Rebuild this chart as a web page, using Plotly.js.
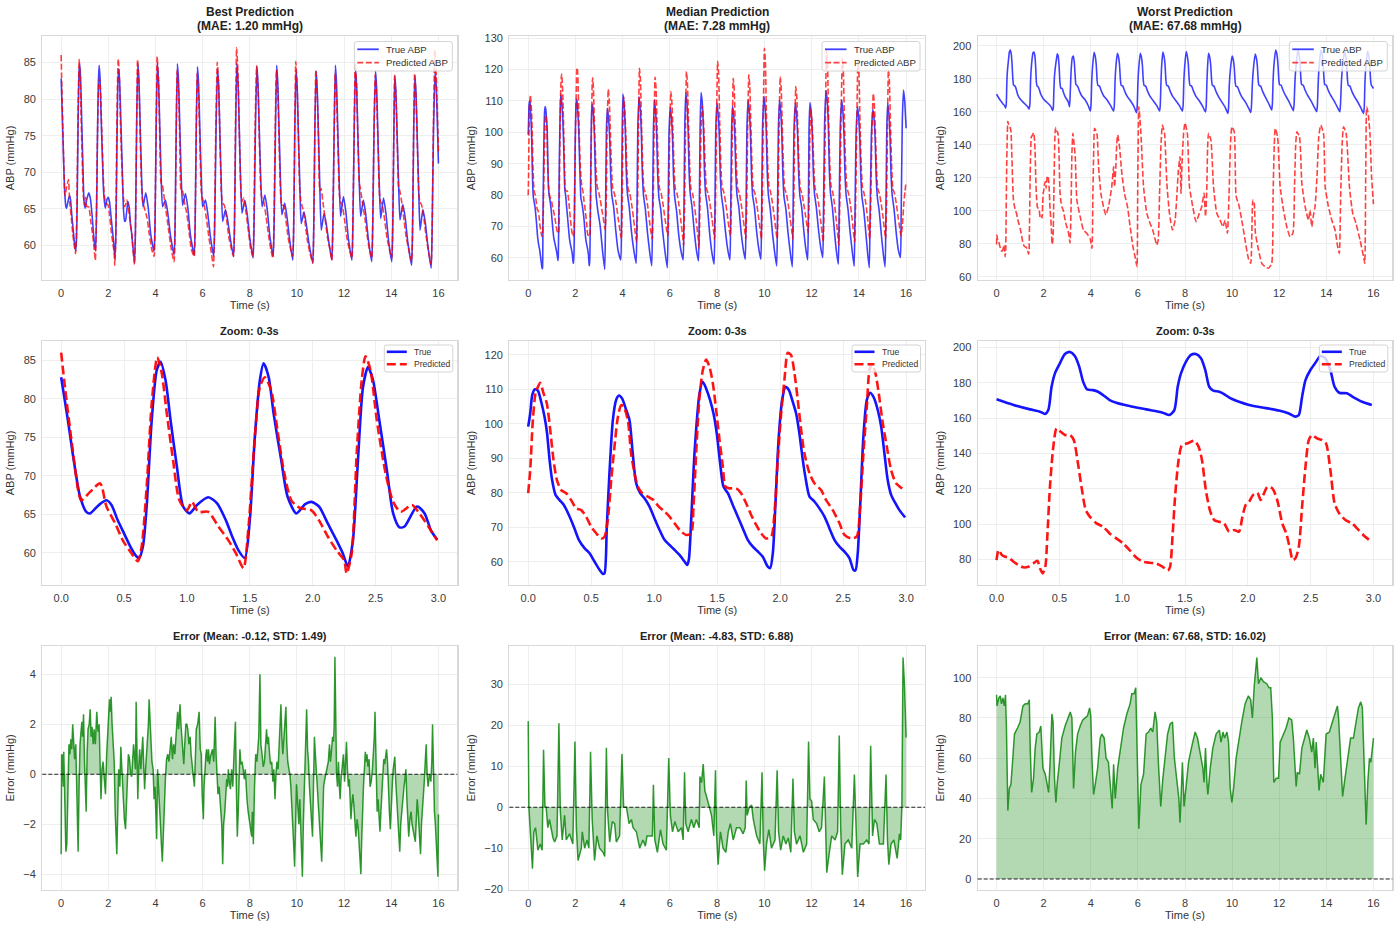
<!DOCTYPE html>
<html>
<head>
<meta charset="utf-8">
<script src="https://cdn.plot.ly/plotly-3.0.1.min.js"></script>
<style>
  html, body { margin: 0; padding: 0; background: #ffffff; }
  #chart { width: 1400px; height: 930px; }
</style>
</head>
<body>
<div id="chart"></div>
<script>
// ---------- Data: [time (s), pressure (mmHg)] samples ----------

// Best case: true ABP
const bestTrue = [
  [0,82.8],[0.05,77.6],[0.1,72],[0.15,67.3],[0.2,65.3],[0.23,65.1],[0.3,66.2],[0.36,66.8],[0.4,66.2],[0.45,64.2],[0.5,62.5],[0.55,60.8],[0.6,59.5],[0.62,59.3],[0.65,60.8],[0.68,66],[0.72,77.2],[0.76,83.7],[0.79,84.8],[0.83,82.4],[0.87,77.2],[0.92,71.2],[0.97,66],[1.02,65.1],[1.08,66.2],[1.17,67.2],[1.24,66.4],[1.31,64.2],[1.36,62.1],[1.41,60.3],[1.46,59.3],[1.5,64.2],[1.54,75],[1.58,82.4],[1.61,84.6],[1.65,82.8],[1.69,78],[1.75,72],[1.8,67.3],[1.87,65.1],[1.94,66.3],[1.99,66.6],[2.05,66],[2.12,63.8],[2.19,61.6],[2.24,59.9],[2.28,58.2],[2.32,61.6],[2.36,72],[2.4,81.5],[2.44,84.1],[2.48,82.4],[2.53,77.2],[2.59,70.7],[2.64,65.1],[2.69,63.3],[2.73,63.4],[2.83,66],[2.89,65.1],[2.94,62.9],[2.99,61.7],
  [3.11,57.6],[3.15,62],[3.2,76],[3.25,84.9],[3.3,82.4],[3.35,76.5],[3.41,69.5],[3.47,65.3],[3.59,67.2],[3.69,65.2],[3.8,61.5],
  [3.94,59.2],[3.98,63],[4.03,76],[4.08,84.9],[4.13,82.4],[4.18,76.5],[4.24,69.5],[4.3,65.3],[4.42,66.2],[4.52,64.5],[4.63,61.5],
  [4.79,58.7],[4.83,62.5],[4.88,76],[4.93,84.8],[4.98,82.3],[5.03,76.5],[5.09,69.5],[5.15,65.5],[5.27,67.1],[5.37,65.2],[5.48,61.5],
  [5.64,58.7],[5.68,62.5],[5.73,76],[5.78,84.4],[5.83,82],[5.88,76],[5.94,69.5],[6.0,65.3],[6.12,66.2],[6.22,64.3],[6.33,61.2],
  [6.47,58.5],[6.51,62.5],[6.57,76],[6.63,84.2],[6.68,81.8],[6.73,75.5],[6.79,68.5],[6.85,63.3],[6.97,64.9],[7.07,63.3],[7.18,60.8],
  [7.31,58.5],[7.35,62.5],[7.4,76],[7.45,84.9],[7.5,82.4],[7.55,76.5],[7.61,69],[7.67,64.4],[7.79,66.2],[7.89,64.3],[8.0,61],
  [8.14,58.3],[8.18,62.5],[8.24,76],[8.3,84.5],[8.35,82],[8.4,76],[8.46,69.5],[8.52,65.3],[8.64,66.9],[8.74,64.9],[8.85,61.3],
  [8.99,58.5],[9.03,62.5],[9.09,76],[9.14,84.6],[9.19,82],[9.24,76],[9.3,69],[9.36,64.2],[9.48,65.8],[9.58,63.8],[9.69,60.8],
  [9.82,58],[9.86,62],[9.91,76],[9.96,84],[10.01,81.5],[10.06,75.5],[10.12,68.5],[10.18,63],[10.3,64.6],[10.4,62.8],[10.51,60.3],
  [10.67,57.6],[10.71,62],[10.76,76],[10.81,83.8],[10.86,81.3],[10.91,75.5],[10.97,68],[11.03,62.1],[11.15,64.4],[11.25,62.8],[11.36,60.3],
  [11.48,58],[11.52,62.5],[11.58,76],[11.63,84.6],[11.68,82],[11.73,76],[11.79,69],[11.85,64],[11.97,66.7],[12.07,64.7],[12.18,61],
  [12.33,58],[12.37,62.5],[12.43,76],[12.48,84.2],[12.53,81.7],[12.58,75.7],[12.64,69],[12.7,64],[12.82,66.2],[12.92,64.2],[13.03,60.8],
  [13.17,57.8],[13.21,62],[13.27,76],[13.33,83.9],[13.38,81.4],[13.43,75.5],[13.49,68.5],[13.55,63.7],[13.67,66.5],[13.77,64.5],[13.88,60.8],
  [14.02,57.8],[14.06,62],[14.11,75.5],[14.15,83.2],[14.2,80.8],[14.25,75],[14.31,68.5],[14.37,63.5],[14.49,65.6],[14.59,63.8],[14.7,60.5],
  [14.86,57.3],[14.9,61.5],[14.95,75.5],[15.0,83.2],[15.05,80.8],[15.1,75],[15.16,68],[15.22,62.1],[15.34,64.9],[15.44,63.2],[15.55,60],
  [15.69,56.9],[15.73,61.5],[15.79,75.5],[15.86,83.8],[15.91,81.5],[15.96,76],[16.0,71.2]
];

// Best case: predicted ABP
const bestPred = [
  [0,86],[0.03,81.5],[0.085,74.2],[0.14,67.7],[0.16,66.8],[0.23,67.9],[0.31,69],[0.36,66],[0.43,63.8],[0.49,61.6],[0.56,59.9],[0.61,58.9],[0.64,60.8],[0.68,68.6],[0.72,79.4],[0.764,85.4],[0.8,83.3],[0.84,78.1],[0.89,72],[0.94,66.8],[1.0,65.5],[1.04,66.6],[1.09,65.3],[1.17,65.3],[1.25,63.4],[1.33,61.6],[1.39,59.9],[1.45,58],[1.49,63.4],[1.54,75],[1.58,81.5],[1.62,82.8],[1.67,81.1],[1.72,75.9],[1.77,70.7],[1.83,66.8],[1.9,65.8],[1.99,65.5],[2.05,64.2],[2.12,62.1],[2.19,60.3],[2.25,59],[2.27,57.3],[2.31,59.9],[2.35,72.9],[2.39,82.4],[2.42,85.5],[2.46,83.7],[2.51,77.2],[2.58,70.3],[2.64,66.6],[2.7,65.3],[2.79,66.2],[2.84,65.3],[2.92,63.4],[2.99,61.6],
  [3.11,57.4],[3.15,62],[3.2,76.5],[3.24,85.4],[3.3,82],[3.35,75],[3.41,68],[3.46,66],[3.54,65],[3.64,63.8],[3.74,61.5],[3.84,59.5],
  [3.94,58.5],[3.98,63],[4.03,77],[4.07,85.8],[4.13,82.3],[4.18,75],[4.24,68.5],[4.29,68.3],[4.37,66.5],[4.47,64.2],[4.57,61.8],[4.67,59.5],
  [4.79,57.8],[4.83,62],[4.88,76],[4.92,84],[4.98,80.5],[5.03,74.5],[5.09,67.5],[5.14,67.5],[5.22,66],[5.32,64.5],[5.42,62],[5.52,59.5],
  [5.64,58.5],[5.68,62.5],[5.73,76],[5.77,83.5],[5.83,80],[5.88,74.5],[5.94,67.5],[5.99,66.5],[6.07,65.5],[6.17,63.5],[6.27,61],[6.37,59],
  [6.46,57.1],[6.5,62],[6.56,76.5],[6.62,85],[6.68,81.5],[6.73,75],[6.79,67.5],[6.84,65.8],[6.92,65.5],[7.02,63.5],[7.12,61],[7.22,59.5],
  [7.31,58.5],[7.35,63],[7.4,78],[7.44,87],[7.5,83.5],[7.55,76],[7.61,68.5],[7.66,66],[7.74,66.5],[7.84,64.5],[7.94,62],[8.04,59.5],
  [8.13,58.5],[8.17,63],[8.23,77],[8.29,84.5],[8.35,81],[8.4,75],[8.46,68],[8.51,66.5],[8.59,66],[8.69,64],[8.79,61.5],[8.89,59.5],
  [8.98,58.3],[9.02,62.5],[9.08,76.5],[9.13,84],[9.19,80.5],[9.24,74.5],[9.3,67.5],[9.35,65.5],[9.43,65.5],[9.53,63.5],[9.63,61],[9.73,59.5],
  [9.82,58.5],[9.86,63],[9.91,77],[9.95,85.1],[10.01,81.5],[10.06,75],[10.12,67.5],[10.17,66],[10.25,65],[10.35,63],[10.45,60.5],[10.55,59],
  [10.67,57.6],[10.71,62],[10.76,76],[10.8,84],[10.86,80.5],[10.91,74.5],[10.97,67.5],[11.02,67.8],[11.1,66],[11.2,63.5],[11.3,61],[11.4,59.5],
  [11.48,58],[11.52,62.5],[11.58,76],[11.62,83.5],[11.68,80],[11.73,74.5],[11.79,67.5],[11.84,66],[11.92,65.5],[12.02,63.5],[12.12,61],[12.22,59.5],
  [12.33,58.3],[12.37,63],[12.43,77],[12.47,84.9],[12.53,81.5],[12.58,75],[12.64,68.5],[12.69,67.8],[12.77,66],[12.87,64],[12.97,61.5],[13.07,59.5],
  [13.17,58.3],[13.21,62.5],[13.27,76],[13.32,83.3],[13.38,80],[13.43,74.5],[13.49,67.5],[13.54,66],[13.62,65.5],[13.72,63.5],[13.82,61],[13.92,59.5],
  [14.02,58.3],[14.06,62.5],[14.11,76],[14.14,83.2],[14.2,80],[14.25,74.5],[14.31,68],[14.36,67.5],[14.44,66],[14.54,63.5],[14.64,61],[14.74,59.5],
  [14.86,57.8],[14.9,62],[14.95,76],[14.99,83.5],[15.05,80],[15.1,74.5],[15.16,67.5],[15.21,66],[15.29,65.5],[15.39,63.5],[15.49,61],[15.59,59],
  [15.69,57.4],[15.73,62],[15.79,77],[15.85,86.7],[15.91,83],[15.96,77.5],[16.0,72.8]
];

// Median case: true ABP
const medTrue = [
  [0,99.2],[0.016,103],[0.032,108.3],[0.053,110],[0.077,109.6],[0.103,106.4],[0.13,102],[0.15,97.2],[0.17,89.5],[0.19,83.7],[0.217,79.4],[0.249,77.9],[0.283,76.5],[0.323,73.6],[0.362,70.2],[0.402,66.4],[0.447,64],[0.487,62.5],[0.526,60.1],[0.566,57.7],[0.593,56.5],[0.606,56.7],[0.624,70.2],[0.645,85.7],[0.672,101.1],[0.698,106.9],[0.72,108.2],[0.746,107.3],[0.778,104],[0.804,101.1],[0.83,91.4],[0.857,82.8],[0.889,79.9],[0.923,78.4],[0.963,76],[1.003,72.6],[1.042,69.3],[1.082,66.4],[1.122,64.9],[1.161,63.5],[1.201,62],[1.241,60.1],[1.262,59.1],[1.275,60.6],[1.294,72.2],[1.32,91.4],[1.36,108.8],[1.386,112.2],[1.413,110.2],[1.444,106.9],[1.471,103],[1.497,97.2],[1.524,88.5],[1.55,81.8],[1.585,79.9],[1.624,76.5],[1.664,73.1],[1.704,69.7],[1.743,66.4],[1.783,64.4],[1.823,63],[1.862,61.5],[1.902,58.6],[1.921,58.2],[1.942,62.5],[1.963,77],[1.989,96.3],[2.016,106.9],[2.042,110.7],[2.069,109.8],[2.1,106.4],[2.127,103],[2.153,97.2],[2.18,89.5],[2.2,84.7],[2.233,78.9],[2.272,77.5],[2.312,75.5],[2.352,73.1],[2.392,69.7],[2.431,66.4],[2.471,64.4],[2.511,63],[2.55,61.1],[2.582,57.7],[2.598,57.5],[2.616,62.5],[2.635,76],[2.661,96.3],[2.688,106.9],[2.714,109],[2.741,107.8],[2.775,104],[2.802,99.2],[2.828,91.4],[2.854,83.7],[2.881,79.4],[2.907,77.5],[2.947,75],[2.992,72.9],
  [3.05,70],[3.15,62],
  [3.24,56.3],[3.27,70],[3.31,100],[3.35,107.7],[3.4,104.7],[3.45,98],[3.49,87],[3.54,80],[3.62,76],[3.71,68.5],[3.8,62.5],
  [3.92,59.3],[3.95,72],[3.98,100],[4.01,112.2],[4.06,109],[4.11,101],[4.15,88],[4.2,80.5],[4.28,76],[4.37,68.5],[4.46,63],
  [4.57,58.2],[4.6,71],[4.64,101],[4.69,111.4],[4.74,108],[4.79,100],[4.83,87.5],[4.88,80],[4.96,75.5],[5.05,68],[5.14,62],
  [5.23,57.4],[5.26,70],[5.3,100],[5.34,110.3],[5.39,107],[5.44,99],[5.48,87],[5.53,79.5],[5.61,75.5],[5.7,68],[5.79,62],
  [5.89,56.8],[5.92,70],[5.96,99],[6.01,108],[6.06,105],[6.11,98],[6.15,86.5],[6.2,79.5],[6.28,75],[6.37,67.5],[6.46,62.5],
  [6.56,59.3],[6.59,72],[6.63,102],[6.67,112.7],[6.72,109.5],[6.77,101],[6.81,88],[6.86,80.5],[6.94,76],[7.03,68.5],[7.12,62.5],
  [7.21,59],[7.24,72],[7.28,102],[7.32,112.7],[7.37,109.5],[7.42,101],[7.46,88],[7.51,80.5],[7.59,76],[7.68,68],[7.77,62],
  [7.87,57.9],[7.9,71],[7.94,100],[7.99,109.3],[8.04,106],[8.09,99],[8.13,87],[8.18,80],[8.26,75.5],[8.35,68.5],[8.44,63],
  [8.54,59.3],[8.57,72],[8.61,100],[8.65,108.4],[8.7,105.5],[8.75,98.5],[8.79,87],[8.84,80],[8.92,76],[9.01,68.5],[9.1,63],
  [9.19,59.5],[9.22,72],[9.26,101],[9.31,110.3],[9.36,107],[9.41,99.5],[9.45,87.5],[9.5,80],[9.58,76],[9.67,68.5],[9.76,63],
  [9.85,59.5],[9.88,72],[9.92,101],[9.98,111.4],[10.03,108],[10.08,100],[10.12,87.5],[10.17,80],[10.25,75.5],[10.34,68],[10.43,62],
  [10.52,57.4],[10.55,70],[10.59,100],[10.64,110.3],[10.69,107],[10.74,99],[10.78,87],[10.83,79.5],[10.91,75.5],[11.0,68],[11.09,62],
  [11.18,57.1],[11.21,70],[11.25,100],[11.31,109.3],[11.36,106],[11.41,98.5],[11.45,87],[11.5,80],[11.58,76],[11.67,68.5],[11.75,63],
  [11.83,59.3],[11.86,72],[11.89,101],[11.93,109.5],[11.98,106.5],[12.03,99],[12.07,87.5],[12.12,80.5],[12.2,76],[12.29,69],[12.38,63.5],
  [12.47,60.1],[12.5,73],[12.55,103],[12.61,113.3],[12.66,110],[12.71,101.5],[12.75,88],[12.8,80.5],[12.88,76],[12.97,68],[13.05,62],
  [13.13,57.9],[13.16,71],[13.21,101],[13.27,110.3],[13.32,107],[13.37,99],[13.41,87],[13.46,80],[13.54,75.5],[13.63,68],[13.72,62],
  [13.8,57.3],[13.83,70],[13.88,99],[13.94,108.2],[13.99,105],[14.04,98],[14.08,86.5],[14.13,79.5],[14.21,75],[14.3,67.5],[14.37,61.5],
  [14.44,56.8],[14.47,70],[14.53,99],[14.59,107.3],[14.64,104.5],[14.69,98],[14.73,86.5],[14.78,79.5],[14.86,75],[14.95,67.5],[15.03,61.5],
  [15.11,57.1],[15.14,70],[15.18,100],[15.22,109.3],[15.27,106],[15.32,98.5],[15.36,87],[15.41,80],[15.49,75.5],[15.58,68],[15.67,62.5],
  [15.76,60.1],[15.79,73],[15.84,104],[15.89,113.5],[15.94,110],[16.0,101.3]
];

// Median case: predicted ABP
const medPred = [
  [0,79.9],[0.016,86.6],[0.037,101.1],[0.058,108.8],[0.077,110.7],[0.095,111.9],[0.122,108.8],[0.148,105.9],[0.175,98.2],[0.201,89.5],[0.228,83.7],[0.262,80.8],[0.302,79.9],[0.341,77.9],[0.381,75.5],[0.421,75],[0.46,73.1],[0.5,70.2],[0.54,68.3],[0.579,66.8],[0.606,67.3],[0.632,72.2],[0.659,83.7],[0.685,93.4],[0.712,102],[0.738,105.4],[0.759,104.9],[0.791,101.1],[0.817,91.4],[0.844,85.7],[0.87,81.8],[0.905,79.9],[0.95,78.9],[0.995,77.9],[1.037,76],[1.082,74.6],[1.122,73.1],[1.161,71.2],[1.201,69.3],[1.254,67.8],[1.294,68.3],[1.312,76],[1.333,91.4],[1.36,107.8],[1.386,115.5],[1.413,118.6],[1.439,116.5],[1.466,111.7],[1.492,104],[1.519,95.3],[1.545,87.6],[1.566,81.8],[1.598,81.3],[1.651,81.3],[1.69,79.9],[1.73,77],[1.77,73.6],[1.81,70.7],[1.849,68.3],[1.889,66.8],[1.929,67.3],[1.955,74.1],[1.981,89.5],[2.008,103],[2.034,112.7],[2.061,120.6],[2.087,119.9],[2.114,114.6],[2.14,106.9],[2.167,98.2],[2.193,91.4],[2.233,85.7],[2.272,82.8],[2.325,80.8],[2.365,77.9],[2.418,75],[2.471,71.2],[2.511,67.8],[2.563,66.8],[2.608,67.3],[2.635,76],[2.661,91.4],[2.688,104.9],[2.709,115.5],[2.73,117.4],[2.757,114.6],[2.783,108.8],[2.815,100.1],[2.847,93.4],[2.881,86.6],[2.921,82.8],[2.987,80.8],
  [3.05,78.5],[3.15,74],
  [3.26,69],[3.3,76],[3.34,100],[3.39,113.7],[3.43,110.5],[3.48,100],[3.53,88],[3.58,82],[3.65,80.5],[3.73,77],[3.81,72.5],[3.89,68.5],
  [3.94,66],[3.98,76],[4.0,95],[4.04,111.4],[4.08,108.5],[4.13,100],[4.18,88],[4.23,82],[4.3,80.5],[4.38,77],[4.46,72.5],[4.53,68],
  [4.59,65],[4.63,76],[4.67,100],[4.71,120.4],[4.75,117],[4.8,102],[4.85,89],[4.9,82],[4.97,80.5],[5.05,77],[5.13,72],[5.2,68],
  [5.25,66],[5.29,76],[5.33,100],[5.37,117.6],[5.41,114.5],[5.46,101],[5.51,88.5],[5.56,82],[5.63,80.5],[5.71,77],[5.79,72.5],[5.86,69],
  [5.91,67],[5.95,76],[5.99,100],[6.04,113],[6.08,110],[6.13,100],[6.18,88],[6.23,82],[6.3,80.5],[6.38,77],[6.46,72],[6.53,67.5],
  [6.58,64],[6.62,76],[6.66,100],[6.7,119.4],[6.74,116],[6.79,102],[6.84,89],[6.89,82],[6.96,80.5],[7.04,76.5],[7.12,71.5],[7.19,66.5],
  [7.23,63],[7.27,76],[7.31,98],[7.36,108.5],[7.4,106],[7.45,99],[7.5,88],[7.55,82],[7.62,80.5],[7.7,77],[7.78,72.5],[7.85,68.5],
  [7.89,66],[7.93,77],[7.97,101],[8.02,122.6],[8.06,119],[8.11,103],[8.16,89],[8.21,82.5],[8.28,81],[8.36,77.5],[8.44,73],[8.51,69],
  [8.56,67],[8.6,77],[8.64,100],[8.68,117.2],[8.72,114],[8.77,101],[8.82,88.5],[8.87,82],[8.94,80.5],[9.02,77],[9.1,72.5],[9.17,68.5],
  [9.21,66],[9.25,76],[9.29,100],[9.34,118.3],[9.38,115],[9.43,101.5],[9.48,88.5],[9.53,82],[9.6,80.5],[9.68,77],[9.76,72.5],[9.83,68.5],
  [9.87,66],[9.91,77],[9.95,102],[10.0,126.8],[10.04,123],[10.09,104],[10.14,90],[10.19,83],[10.26,81],[10.34,77.5],[10.42,73],[10.49,68.5],
  [10.54,66],[10.58,76],[10.62,100],[10.67,117.8],[10.71,114.5],[10.76,101],[10.81,88.5],[10.86,82],[10.93,80.5],[11.01,77],[11.09,72.5],[11.16,68.5],
  [11.2,66],[11.24,76],[11.28,99],[11.33,114.6],[11.37,111.5],[11.42,100],[11.47,88],[11.52,82],[11.59,80.5],[11.67,77],[11.75,73],[11.81,70],
  [11.85,68],[11.89,77],[11.92,96],[11.96,107.5],[12.0,105],[12.05,98],[12.1,88],[12.15,82],[12.22,80.5],[12.3,77],[12.38,72],[12.45,67.5],
  [12.49,65],[12.53,77],[12.58,102],[12.63,126.3],[12.67,122.5],[12.72,104],[12.77,90],[12.82,83],[12.89,81],[12.97,77],[13.05,71.5],[13.11,67],
  [13.15,64],[13.19,76],[13.24,101],[13.3,123.6],[13.34,120],[13.39,103],[13.44,89.5],[13.49,82.5],[13.56,80.5],[13.64,77],[13.72,72],[13.78,67.5],
  [13.82,65],[13.86,76],[13.91,101],[13.96,123],[14.0,119.5],[14.05,103],[14.1,89.5],[14.15,82.5],[14.22,80.5],[14.3,77],[14.37,72.5],[14.42,68.5],
  [14.46,66],[14.5,76],[14.55,99],[14.61,112.4],[14.65,109.5],[14.7,100],[14.75,88],[14.8,82],[14.87,80.5],[14.95,77],[15.03,72.5],[15.09,68.5],
  [15.13,66],[15.17,76],[15.21,100],[15.25,119.9],[15.29,116.5],[15.34,102],[15.39,89],[15.44,82],[15.51,80.5],[15.59,77],[15.67,72.5],[15.74,69],
  [15.78,67],[15.84,70],[15.9,77],[15.95,81],[16.0,84.3]
];

// Worst case: true ABP
const worstTrue = [
  [0,170.6],[0.135,167.4],[0.267,164.9],[0.346,163.6],[0.386,162.3],[0.412,164.5],[0.438,177.7],[0.465,185.3],[0.504,190.9],[0.544,196.2],[0.584,197.4],[0.623,195.1],[0.658,189.1],[0.689,180.6],[0.721,176.2],[0.768,175.8],[0.808,174.9],[0.848,173],[0.9,170.2],[0.953,168.7],[1.059,166.8],[1.191,164.9],[1.323,163],[1.376,161.7],[1.415,164.5],[1.442,177.7],[1.468,185.3],[1.508,191.9],[1.547,195.7],[1.587,196.2],[1.627,193.8],[1.661,187.2],[1.693,177.7],[1.725,175.5],[1.772,174.9],[1.811,173.6],[1.864,171.1],[1.93,169.2],[2.01,167.4],[2.115,166],[2.247,164.2],[2.326,162.6],[2.379,160.8],[2.406,161.7],[2.432,172.1],[2.459,181.5],[2.498,187.2],[2.538,191.3],[2.578,195.1],[2.617,193.8],[2.657,187.2],[2.691,177.7],[2.728,174.3],[2.789,174],[2.842,171.7],[2.909,169.2],[2.987,167.4],
  [3.05,165.8],[3.1,163],[3.13,172],[3.17,186],[3.22,193],[3.26,193.7],[3.3,190],[3.34,181],[3.37,176.5],[3.44,175.5],[3.52,172.5],[3.62,169.5],[3.77,167],[3.9,163.5],
  [3.98,160.4],[4.01,164],[4.04,178],[4.08,188],[4.14,196],[4.19,193.5],[4.23,189],[4.27,179],[4.3,176],[4.37,175.5],[4.45,172.5],[4.55,169.5],[4.7,167],[4.85,163.5],
  [4.97,160.4],[5.0,164],[5.03,178],[5.07,188],[5.13,195.4],[5.18,193],[5.22,188.5],[5.26,179],[5.29,176],[5.36,175.5],[5.44,172.5],[5.54,169.5],[5.69,166.5],[5.84,163],
  [5.94,159.4],[5.97,163],[6.0,177],[6.04,187],[6.1,195.4],[6.15,193],[6.19,188.5],[6.23,179],[6.26,176],[6.33,175.5],[6.41,172.5],[6.51,169.5],[6.66,166.5],[6.81,163.5],
  [6.92,160.4],[6.95,164],[6.98,178],[7.01,188],[7.06,196.2],[7.11,193.5],[7.15,189],[7.19,179],[7.22,176],[7.29,175.5],[7.37,172.5],[7.47,169.5],[7.62,166.5],[7.77,163.5],
  [7.89,160.4],[7.92,164],[7.95,178],[7.99,188],[8.05,196.4],[8.1,193.5],[8.14,189],[8.18,179],[8.21,176],[8.28,175.5],[8.36,172.5],[8.46,169.5],[8.61,166.5],[8.76,163],
  [8.87,159.8],[8.9,163.5],[8.93,178],[8.96,188],[9.0,195.4],[9.05,193],[9.09,188.5],[9.13,179],[9.16,176],[9.23,175.5],[9.31,172.5],[9.41,169.5],[9.56,166],[9.71,162.5],
  [9.82,159],[9.85,162.5],[9.88,176],[9.93,186],[10.0,193.7],[10.05,191.5],[10.09,187],[10.13,178],[10.16,175.5],[10.23,175],[10.31,172],[10.41,169],[10.56,166],[10.69,162.5],
  [10.79,159.6],[10.82,163],[10.86,177],[10.91,187],[10.98,195],[11.03,192.5],[11.07,188],[11.11,178.5],[11.14,176],[11.21,175.5],[11.29,172.5],[11.39,169.5],[11.5,166.5],[11.6,163.5],
  [11.68,161],[11.71,165],[11.74,179],[11.78,189],[11.85,197.4],[11.9,195],[11.94,190],[11.98,180],[12.01,176.5],[12.08,176],[12.16,173],[12.26,170],[12.38,167],[12.5,163.5],
  [12.6,160.6],[12.63,164.5],[12.67,179],[12.72,189],[12.79,197.4],[12.84,195],[12.88,190],[12.92,180],[12.95,176.5],[13.02,176],[13.1,173],[13.2,170],[13.33,167],[13.48,163],
  [13.59,160],[13.62,164],[13.66,179],[13.7,189],[13.77,197.4],[13.82,195],[13.86,190],[13.9,180],[13.93,176.5],[14.0,176],[14.08,173],[14.18,170],[14.31,167],[14.46,163],
  [14.57,160],[14.6,164],[14.64,178],[14.69,188],[14.77,196.4],[14.82,194],[14.86,189],[14.9,179],[14.93,176],[15.0,175.5],[15.08,172.5],[15.18,169.5],[15.31,166.5],[15.46,162.5],
  [15.58,159],[15.61,163],[15.64,178],[15.68,188],[15.75,196.8],[15.8,194],[15.84,189],[15.88,179],[15.91,176],[15.96,175],[16.0,174.1]
];

// Worst case: predicted ABP
const worstPred = [
  [0,79.6],[0.016,85.3],[0.042,82.5],[0.069,81.5],[0.095,81.1],[0.135,78.7],[0.174,76.8],[0.214,75.5],[0.253,75.8],[0.293,77.7],[0.325,79.2],[0.346,74.9],[0.367,72.1],[0.388,75.8],[0.404,92.8],[0.425,121.1],[0.452,143.8],[0.478,154.2],[0.51,152.3],[0.544,150.4],[0.584,150.4],[0.615,147.5],[0.644,136.2],[0.676,121.1],[0.71,107.9],[0.742,104.2],[0.795,100.4],[0.848,98.5],[0.9,94.7],[0.953,91.9],[1.006,89.1],[1.059,85.3],[1.112,81.1],[1.165,78.7],[1.217,78.1],[1.27,77.7],[1.323,75.8],[1.363,73.6],[1.381,75.8],[1.402,94.7],[1.423,117.4],[1.449,136.2],[1.476,144.7],[1.521,145.7],[1.574,147.2],[1.608,143.8],[1.635,136.2],[1.666,119.2],[1.698,107.9],[1.732,102.3],[1.772,101.3],[1.811,100.4],[1.851,95.7],[1.891,96.6],[1.93,95.7],[1.957,104.2],[1.983,110.8],[2.01,112.6],[2.041,116.4],[2.076,117.7],[2.102,113.6],[2.129,117.4],[2.155,121.1],[2.195,120.2],[2.234,113.6],[2.274,100.4],[2.306,94.7],[2.332,87.2],[2.358,79.6],[2.379,80.6],[2.406,87.2],[2.432,109.8],[2.459,132.5],[2.485,147.5],[2.511,150.4],[2.551,148.5],[2.591,147.5],[2.622,145.7],[2.657,130.6],[2.691,111.7],[2.728,106],[2.776,102.3],[2.829,100.4],[2.882,96.6],[2.934,92.8],[2.987,90],
  [3.05,87],[3.12,80.5],[3.16,100],[3.2,135],[3.24,146.9],[3.28,142],[3.34,132.7],[3.41,106.5],[3.55,96.4],[3.69,88.3],[3.83,86.3],[3.97,83.2],[4.05,77.2],[4.09,110],[4.13,140],[4.16,149.9],[4.26,146.9],[4.33,126.7],[4.43,110.5],[4.54,102.4],[4.64,97.4],[4.75,102.4],[4.89,114.5],[4.97,126.7],[5.01,114.5],[5.06,125],[5.1,140],[5.14,145.9],[5.22,138.8],[5.32,122.6],[5.43,110.5],[5.56,102.4],[5.67,90.3],[5.79,78.2],[5.88,72.1],[5.96,66.1],[5.99,110],[6.02,150],[6.04,163],[6.09,155],[6.13,146.9],[6.24,114.5],[6.38,98.4],[6.52,92.3],[6.63,88.3],[6.74,82.2],[6.8,79.2],[6.86,82],[6.92,110],[6.98,140],[7.04,151.9],[7.13,146.9],[7.23,116.6],[7.34,98.4],[7.47,88.3],[7.58,94.3],[7.72,124.6],[7.79,132.7],[7.83,110.5],[7.88,130.7],[7.94,146.9],[8.0,153.3],[8.1,146.9],[8.19,114.5],[8.33,102.4],[8.47,93.3],[8.61,98.4],[8.71,102.4],[8.81,110.5],[8.87,96.4],[8.92,110],[8.96,138],[9.0,146.9],[9.1,142.8],[9.21,114.5],[9.35,98.4],[9.49,94.3],[9.61,90.3],[9.7,94.3],[9.8,86.3],[9.87,110],[9.93,140],[9.99,150.9],[10.09,147.9],[10.17,108.5],[10.27,104.4],[10.41,94.3],[10.55,82.2],[10.69,71.1],[10.79,68.1],[10.88,106.5],[10.94,104.4],[10.99,86.3],[11.12,76.2],[11.26,68.1],[11.4,66.1],[11.54,65.1],[11.68,68.1],[11.74,110],[11.79,140],[11.83,149.9],[11.93,144.8],[12.04,114.5],[12.18,100.4],[12.32,90.3],[12.46,84.2],[12.58,86.3],[12.65,115],[12.7,140],[12.75,147.9],[12.86,144.8],[12.96,116.6],[13.1,102.4],[13.24,94.3],[13.31,100.4],[13.38,90.3],[13.45,97],[13.52,102.4],[13.6,120],[13.68,145],[13.76,151.9],[13.88,146.9],[13.95,114.5],[14.09,102.4],[14.23,94.3],[14.37,88.3],[14.48,78.2],[14.55,74.1],[14.61,110],[14.67,140],[14.73,150.9],[14.84,146.9],[14.98,114.5],[15.12,98.4],[15.26,92.3],[15.43,82.2],[15.58,72.1],[15.63,68.1],[15.67,120],[15.7,160],[15.72,163],[15.79,157],[15.85,146.9],[15.92,120.6],[16.0,104]
];

// Error traces (true - predicted), mmHg
const bestErr = [
  [0,-3.2],[0.02,0.8],[0.04,-0.3],[0.06,0.8],[0.09,-0.5],[0.11,0.9],[0.15,-1.5],[0.2,-3.1],[0.24,-2.8],[0.28,-1.0],[0.33,1.2],[0.37,0.8],[0.41,1.4],[0.45,1.0],[0.49,2.0],[0.53,1.3],[0.57,0.6],[0.62,1.2],[0.66,-0.3],[0.7,-2.0],[0.72,-3.1],[0.76,-0.5],[0.8,1.2],[0.85,1.8],[0.88,2.1],[0.91,1.5],[0.95,2.4],[0.99,0.5],[1.03,-0.5],[1.06,-1.5],[1.1,0.8],[1.14,1.8],[1.19,2.0],[1.23,2.6],[1.27,1.5],[1.31,1.9],[1.36,1.2],[1.4,1.8],[1.45,1.2],[1.51,2.5],[1.55,1.8],[1.58,1.7],[1.61,2.0],[1.65,0.5],[1.69,-1.0],[1.73,0.2],[1.78,0.5],[1.83,-0.2],[1.88,-0.8],[1.93,0.8],[1.98,2.0],[2.02,2.8],[2.05,3.0],[2.09,2.5],[2.12,3.1],[2.16,2.0],[2.2,1.5],[2.25,0.5],[2.29,-1.5],[2.33,-2.5],[2.36,-3.2],[2.4,-1.5],[2.44,0.2],[2.49,-0.5],[2.53,1.1],[2.57,0.3],[2.61,-0.5],[2.65,-1.2],[2.68,-1.8],[2.73,-2.2],[2.77,-1.0],[2.81,0.2],[2.85,0.8],[2.9,0.6],[2.95,0.0],[2.99,-0.1],
  [3.03,0.5],[3.07,1.2],[3.12,0.6],[3.15,0.2],[3.18,2.9],[3.22,0.8],[3.25,-1.0],[3.29,0.3],[3.33,1.0],[3.38,0.2],[3.42,1.2],[3.46,1.5],[3.5,0.4],[3.54,-0.6],[3.58,0.2],[3.62,0.8],[3.66,1.2],[3.7,2.0],[3.73,3.0],[3.77,2.2],[3.81,1.5],[3.85,0.5],[3.9,0.2],[3.94,-1.0],[3.98,-0.5],[4.02,-1.5],[4.05,-2.6],[4.09,0.2],[4.13,-0.8],[4.17,-1.5],[4.21,-2.0],[4.25,-2.8],[4.29,-3.5],[4.33,-2.5],[4.37,-1.2],[4.42,-0.2],[4.47,0.6],[4.52,0.8],[4.57,0.5],[4.62,1.0],[4.67,1.5],[4.72,0.6],[4.77,1.2],[4.82,0.8],[4.86,1.5],[4.9,2.0],[4.94,2.5],[4.98,1.8],[5.01,2.4],[5.04,2.8],[5.08,2.0],[5.12,1.3],[5.16,1.0],[5.2,0.4],[5.24,1.2],[5.29,2.0],[5.33,2.0],[5.37,1.8],[5.42,1.2],[5.47,1.5],[5.51,0.8],[5.56,0.2],[5.6,-0.2],[5.65,-0.5],[5.69,0.6],[5.73,1.8],[5.79,2.0],[5.85,2.5],[5.9,1.0],[5.94,0.8],[5.98,-0.8],
  [6.03,-1.8],[6.06,-0.5],[6.1,0.5],[6.14,0.8],[6.17,1.0],[6.21,0.5],[6.25,1.0],[6.29,0.4],[6.33,0.7],[6.38,0.9],[6.42,1.0],[6.47,0.5],[6.5,1.2],[6.53,2.3],[6.57,0.8],[6.61,-0.3],[6.65,-0.8],[6.7,-0.5],[6.74,-1.2],[6.78,-1.8],[6.81,-2.0],[6.85,-3.6],[6.89,-2.0],[6.94,-1.5],[6.98,-0.8],[7.02,-0.2],[7.06,-0.5],[7.09,0.2],[7.13,-0.3],[7.18,-0.6],[7.23,0.2],[7.28,-0.5],[7.33,0.8],[7.36,1.5],[7.39,2.1],[7.43,-0.5],[7.47,-2.5],[7.51,-1.5],[7.55,-0.3],[7.58,1.0],[7.62,0.4],[7.67,0.5],[7.72,0.2],[7.77,-0.2],[7.81,0.2],[7.84,-0.5],[7.88,-1.0],[7.93,-1.5],[7.98,-1.8],
  [8.03,-2.2],[8.08,-2.5],[8.11,-1.5],[8.15,-2.8],[8.2,-0.5],[8.25,0.8],[8.3,0.5],[8.34,1.0],[8.38,1.5],[8.43,4.0],[8.47,1.2],[8.52,0.8],[8.57,0.3],[8.62,0.5],[8.66,1.2],[8.71,1.8],[8.75,1.2],[8.79,1.5],[8.84,0.8],[8.88,0.4],[8.93,0.5],[8.98,-0.3],[9.02,0.2],[9.07,-1.0],[9.11,0.0],[9.15,0.5],[9.2,0.2],[9.24,1.0],[9.28,2.0],[9.32,2.8],[9.36,1.5],[9.4,0.8],[9.45,1.5],[9.49,2.0],[9.53,2.7],[9.57,1.2],[9.61,0.5],[9.66,0.2],[9.7,0.0],[9.74,-0.5],[9.78,-1.5],[9.82,-2.0],[9.86,-2.8],[9.9,-3.7],[9.94,-1.5],[9.98,-0.4],
  [10.03,-1.2],[10.08,-2.0],[10.12,-1.0],[10.16,-2.5],[10.2,-3.2],[10.23,-4.1],[10.27,-2.0],[10.31,-0.5],[10.36,0.5],[10.41,2.6],[10.45,1.0],[10.49,0.5],[10.53,-0.5],[10.58,-1.2],[10.62,-1.8],[10.66,-2.5],[10.7,-0.5],[10.74,1.5],[10.78,0.8],[10.83,0.0],[10.88,-0.8],[10.93,-1.5],[10.98,-2.0],[11.02,-2.8],[11.05,-3.5],[11.09,-2.0],[11.13,-0.5],[11.18,-0.2],[11.23,0.0],[11.28,0.3],[11.33,0.5],[11.38,1.2],[11.42,0.5],[11.47,1.0],[11.51,1.5],[11.55,1.3],[11.58,2.0],[11.61,4.7],[11.64,1.5],[11.68,0.0],[11.72,-0.5],[11.76,0.5],[11.8,-0.5],[11.83,-1.0],[11.87,-0.2],[11.92,0.3],[11.97,0.8],
  [12.02,-0.3],[12.06,0.5],[12.1,1.3],[12.14,0.2],[12.18,-0.5],[12.22,-0.2],[12.26,-1.0],[12.29,-1.8],[12.33,-1.2],[12.37,-0.8],[12.41,-1.2],[12.45,-2.0],[12.5,-2.5],[12.55,-1.8],[12.6,-2.2],[12.65,-3.0],[12.68,-3.8],[12.71,-4.0],[12.74,-2.8],[12.78,-1.0],[12.82,-0.5],[12.86,0.2],[12.9,0.9],[12.93,0.5],[12.97,0.8],[13.01,0.3],[13.06,0.6],[13.1,-0.5],[13.15,-0.3],[13.2,0.2],[13.25,1.0],[13.28,1.5],[13.31,2.5],[13.35,0.5],[13.4,-1.5],[13.44,-1.0],[13.48,-1.8],[13.52,-2.3],[13.56,-1.5],[13.6,-0.8],[13.64,0.2],[13.68,0.6],[13.72,0.4],[13.76,0.8],[13.8,1.0],[13.84,0.5],[13.88,-1.0],[13.92,-1.5],[13.96,-2.2],
  [14.0,-1.0],[14.04,-0.5],[14.08,0.2],[14.12,0.5],[14.15,0.7],[14.19,-0.3],[14.23,-1.0],[14.28,-1.5],[14.32,-2.5],[14.36,-3.1],[14.4,-2.0],[14.44,-1.5],[14.49,-1.0],[14.54,-0.5],[14.58,-0.2],[14.62,0.2],[14.66,-1.0],[14.7,-2.0],[14.74,-2.5],[14.79,-1.8],[14.84,-1.5],[14.88,-2.0],[14.93,-2.2],[14.98,-2.5],[15.02,-2.7],[15.06,-1.8],[15.1,-1.0],[15.14,-1.5],[15.18,-2.2],[15.21,-2.8],[15.24,-3.2],[15.28,-2.0],[15.32,-1.5],[15.36,-0.8],[15.4,-0.3],[15.44,0.5],[15.48,1.2],[15.52,0.0],[15.56,-0.5],[15.6,-0.2],[15.64,0.0],[15.68,-0.3],[15.72,0.5],[15.75,2.0],[15.79,-0.5],[15.83,-1.5],[15.87,-2.0],[15.91,-2.8],[15.95,-3.5],[15.98,-4.1],[16.0,-1.6]
];

const medErr = [
  [0,21],[0.03,0],[0.08,-5.1],[0.18,-15],[0.24,-6],[0.31,-5],[0.41,-10.5],[0.51,-9],[0.59,-10.5],[0.65,14],[0.71,0],[0.76,0],[0.83,-5],[0.9,-3],[1.05,-7.5],[1.12,-8.5],[1.22,-7],[1.3,20.5],[1.36,-1],[1.44,-8],[1.54,-2],[1.61,-8],[1.75,-6.5],[1.89,-9],[1.98,16],[2.04,-5],[2.11,-13],[2.25,-10],[2.29,-6],[2.39,-10],[2.49,-8],[2.57,-10],[2.64,13.5],[2.71,-3],[2.81,-13],[2.91,-7],[3.02,-10],[3.17,-11],[3.24,-12],[3.31,14.5],[3.36,-1],[3.45,-8.5],[3.56,-3.5],[3.66,-4],[3.73,-8.5],[3.87,-7],[3.97,13],[4.04,0],[4.16,0],[4.27,-4],[4.37,-3],[4.44,-5],[4.58,-6],[4.72,-10],[4.86,-8],[4.96,-9.5],[5.03,-7],[5.14,-7],[5.26,-7],[5.3,5.5],[5.36,-8],[5.47,-11],[5.6,-5.5],[5.71,-9],[5.85,-10.5],[5.95,12],[6.02,-2],[6.11,-6],[6.21,-3.5],[6.35,-6],[6.49,-5],[6.56,-8],[6.62,8.5],[6.67,-4],[6.77,-6],[6.91,-3],[7.01,-5],[7.12,-3],[7.24,-5],[7.27,7.5],[7.34,6],[7.41,10.5],[7.48,4],[7.58,2],[7.66,0],[7.76,-2],[7.86,-7],[7.93,9],[7.97,-6],[8.04,-14],[8.14,-6],[8.25,-10],[8.37,-11],[8.47,-6],[8.56,-4],[8.68,-8],[8.82,-5],[8.96,-5],[9.1,-6.5],[9.19,-5],[9.23,6.5],[9.27,-2],[9.36,0],[9.46,0.5],[9.53,-3],[9.67,-7],[9.81,-9],[9.9,8.5],[9.95,-8],[10.01,-15.5],[10.09,-9],[10.19,-5.5],[10.3,-10],[10.45,-8],[10.54,9],[10.6,-6],[10.69,-10.5],[10.8,-7],[10.91,-9],[11.01,-7.5],[11.12,-11],[11.21,7],[11.27,-6],[11.36,-9],[11.51,-7],[11.65,-11],[11.79,-9],[11.87,16],[11.93,2],[12.0,1.5],[12.07,-3],[12.21,-4],[12.32,-6],[12.42,-5],[12.54,7.5],[12.58,-5],[12.64,-16],[12.75,-11],[12.85,-7],[12.99,-8],[13.1,-6],[13.17,17.5],[13.23,-5],[13.3,-16.5],[13.41,-9],[13.55,-8],[13.7,-10],[13.81,8],[13.88,-8],[13.95,-17],[14.05,-9],[14.19,-9],[14.33,-8],[14.43,-9],[14.5,15],[14.58,-7],[14.66,-3],[14.76,-4],[14.87,-9],[15.04,-9],[15.15,8],[15.21,-8],[15.27,-14],[15.36,-9],[15.48,-8],[15.62,-12.5],[15.72,-6.5],[15.77,-8],[15.82,0],[15.87,36.5],[15.93,30],[15.97,17],[16.0,17]
];

const worstErr = [
  [0,91.5],[0.02,86],[0.04,87],[0.1,90],[0.16,91],[0.21,87],[0.27,90],[0.33,86],[0.38,91.5],[0.42,75],[0.48,34],[0.54,45],[0.61,47],[0.69,60],[0.76,72],[0.89,75],[1.0,78],[1.12,86],[1.22,87],[1.33,87],[1.39,89],[1.43,65],[1.49,43],[1.57,50],[1.64,65],[1.71,72],[1.81,73],[1.88,76],[1.97,55],[2.07,52],[2.14,47],[2.21,43],[2.28,60],[2.35,82],[2.4,78],[2.46,50],[2.52,38],[2.57,47],[2.67,58],[2.77,70],[2.91,76],[3.03,80],[3.13,83],[3.2,80],[3.27,45],[3.35,63],[3.44,72],[3.55,76],[3.66,79],[3.76,80],[3.86,81],[3.95,85],[4.0,81],[4.05,60],[4.12,42],[4.19,47],[4.29,55],[4.4,70],[4.47,72],[4.57,70],[4.65,60],[4.75,58],[4.85,45],[4.91,35],[4.97,57],[5.04,40],[5.14,55],[5.25,65],[5.39,75],[5.53,82],[5.67,87],[5.74,92],[5.84,92],[5.91,95],[5.98,60],[6.04,25],[6.13,47],[6.24,52],[6.35,72],[6.45,73],[6.55,75],[6.63,73],[6.73,83],[6.8,78],[6.87,58],[6.97,36],[7.06,50],[7.16,60],[7.26,72],[7.37,77],[7.47,78],[7.55,60],[7.65,50],[7.74,40],[7.79,28],[7.85,45],[7.89,58],[7.96,36],[8.05,48],[8.15,58],[8.29,66],[8.43,73],[8.53,70],[8.64,63],[8.76,55],[8.81,48],[8.87,65],[8.93,48],[8.97,42],[9.07,55],[9.18,65],[9.32,72],[9.46,74],[9.53,68],[9.61,73],[9.68,70],[9.78,73],[9.85,68],[9.92,45],[9.99,38],[10.06,45],[10.17,60],[10.27,68],[10.41,78],[10.55,87],[10.69,91],[10.79,89],[10.86,80],[10.94,96],[11.0,105],[11.05,110],[11.12,97],[11.22,100],[11.33,98],[11.47,97],[11.57,95],[11.64,95],[11.71,80],[11.77,48],[11.87,50],[11.97,50],[12.04,68],[12.18,72],[12.29,75],[12.41,80],[12.53,79],[12.6,70],[12.67,55],[12.72,46],[12.77,53],[12.86,52],[12.96,65],[13.07,70],[13.17,74],[13.28,70],[13.38,63],[13.45,70],[13.52,55],[13.57,68],[13.62,57],[13.69,44],[13.76,52],[13.87,48],[13.99,72],[14.13,73],[14.23,77],[14.37,82],[14.47,86],[14.52,80],[14.61,55],[14.69,41],[14.79,50],[14.89,58],[14.97,66],[15.03,70],[15.15,70],[15.26,78],[15.36,85],[15.46,88],[15.53,85],[15.57,70],[15.63,45],[15.69,27],[15.76,48],[15.83,60],[15.89,58],[16.0,70]
];

// Panel titles, legend labels and tick labels
const caseTitles = ['Best Prediction', 'Median Prediction', 'Worst Prediction'];
const caseMAE = [1.20, 7.28, 67.68];
const errMean = [-0.12, -4.83, 67.68];
const errStd = [1.49, 6.88, 16.02];
const zoomTitle = 'Zoom: 0-3s';
const zoomEnd = 3;
const fullLegendLabels = ['True ABP', 'Predicted ABP'];
const zoomLegendLabels = ['True', 'Predicted'];

const timeTicks = [0, 2, 4, 6, 8, 10, 12, 14, 16];
const zoomTicks = [0, 0.5, 1, 1.5, 2, 2.5, 3];
const abpTicks = [
  [60, 65, 70, 75, 80, 85],
  [60, 70, 80, 90, 100, 110, 120, 130],
  [60, 80, 100, 120, 140, 160, 180, 200]
];
const zoomAbpTicks = [
  [60, 65, 70, 75, 80, 85],
  [60, 70, 80, 90, 100, 110, 120],
  [80, 100, 120, 140, 160, 180, 200]
];
const errTicks = [
  [-4, -2, 0, 2, 4],
  [-20, -10, 0, 10, 20, 30],
  [0, 20, 40, 60, 80, 100]
];

// ---------- Layout geometry (pixels on a 1400 x 930 page) ----------
const W = 1400, H = 930;
const FONT = 'Liberation Sans, Arial, Helvetica, sans-serif';
const colPx = [[42.3, 457.3], [509.3, 925.0], [977.7, 1392.3]];
const rowPx = [[36, 280], [341, 585], [645.7, 890]];
const px = v => v / W;
const py = v => 1 - v / H;
const colDom = colPx.map(c => [px(c[0]), px(c[1])]);
const rowDom = rowPx.map(r => [py(r[1]), py(r[0])]);
const fullRange = [-0.8, 16.8];
const zoomRange = [-0.15, 3.15];
const rowYRanges = [
  [[55.3, 88.6], [52.9, 130.7], [58, 205.9]],
  [[55.8, 87.5], [53.3, 124.0], [65.5, 203.6]],
  [[-4.63, 5.14], [-20.2, 39.4], [-5.5, 115.9]]
];

const cases = [
  { t: bestTrue, p: bestPred, e: bestErr },
  { t: medTrue, p: medPred, e: medErr },
  { t: worstTrue, p: worstPred, e: worstErr }
];

const X = a => a.map(d => d[0]);
const Y = a => a.map(d => d[1]);
const upTo = (a, tEnd) => a.filter(d => d[0] <= tEnd + 1e-9);

const traces = [];
const layout = {
  width: W, height: H,
  margin: { l: 0, r: 0, t: 0, b: 0 },
  paper_bgcolor: '#ffffff', plot_bgcolor: '#ffffff',
  font: { family: FONT, size: 11, color: '#333333' },
  showlegend: false,
  annotations: [], shapes: []
};

function axisBase() {
  return {
    showline: true, linecolor: '#d8d8d8', linewidth: 1.2, mirror: true,
    showgrid: true, gridcolor: '#eeeeee', gridwidth: 1,
    zeroline: false, ticks: '', ticklabelstandoff: 3,
    tickfont: { family: FONT, size: 11, color: '#3a3a3a' },
    fixedrange: true
  };
}

const blueThin = 'rgba(0,0,255,0.75)';
const redThin = 'rgba(255,0,0,0.75)';
const blueThick = 'rgba(0,0,255,0.92)';
const redThick = 'rgba(255,0,0,0.92)';
const thinDash = '6px,2.5px';
const thickDash = '9px,4px';

// Rounded legend frame with line swatches and labels
function addLegend(box, items, fontSize) {
  const r = 2.5;
  const x0 = box.left, x1 = box.left + box.width, y0 = box.top, y1 = box.top + box.height;
  const path = [
    'M', px(x0 + r), py(y0), 'L', px(x1 - r), py(y0), 'Q', px(x1), py(y0), px(x1), py(y0 + r),
    'L', px(x1), py(y1 - r), 'Q', px(x1), py(y1), px(x1 - r), py(y1),
    'L', px(x0 + r), py(y1), 'Q', px(x0), py(y1), px(x0), py(y1 - r),
    'L', px(x0), py(y0 + r), 'Q', px(x0), py(y0), px(x0 + r), py(y0), 'Z'
  ].join(' ');
  layout.shapes.push({
    type: 'path', xref: 'paper', yref: 'paper', path: path, layer: 'above',
    fillcolor: 'rgba(255,255,255,0.8)', line: { color: '#d4d4d4', width: 1 }
  });
  items.forEach(it => {
    layout.shapes.push({
      type: 'line', xref: 'paper', yref: 'paper', layer: 'above',
      x0: px(box.left + box.lineStart), x1: px(box.left + box.lineEnd), y0: py(it.y), y1: py(it.y),
      line: { color: it.color, width: it.width, dash: it.dash || 'solid' }
    });
    layout.annotations.push({
      xref: 'paper', yref: 'paper', x: px(box.left + box.textStart), y: py(it.y),
      xanchor: 'left', yanchor: 'middle', showarrow: false, text: it.label,
      font: { family: FONT, size: fontSize, color: '#333333' }
    });
  });
}

for (let r = 0; r < 3; r++) {
  for (let c = 0; c < 3; c++) {
    const idx = r * 3 + c + 1;
    const xName = idx === 1 ? 'xaxis' : 'xaxis' + idx;
    const yName = idx === 1 ? 'yaxis' : 'yaxis' + idx;
    const xRef = idx === 1 ? 'x' : 'x' + idx;
    const yRef = idx === 1 ? 'y' : 'y' + idx;

    const xa = axisBase();
    xa.domain = colDom[c];
    xa.anchor = yRef;
    xa.range = r === 1 ? zoomRange : fullRange;
    xa.tickmode = 'array';
    xa.tickvals = r === 1 ? zoomTicks : timeTicks;
    xa.ticktext = (r === 1 ? zoomTicks.map(v => v.toFixed(1)) : timeTicks.map(String));
    xa.title = { text: 'Time (s)', font: { family: FONT, size: 11, color: '#333333' }, standoff: 2 };
    layout[xName] = xa;

    const ya = axisBase();
    ya.domain = rowDom[r];
    ya.anchor = xRef;
    ya.range = rowYRanges[r][c];
    ya.tickmode = 'array';
    ya.tickvals = r === 0 ? abpTicks[c] : (r === 1 ? zoomAbpTicks[c] : errTicks[c]);
    ya.title = { text: r === 2 ? 'Error (mmHg)' : 'ABP (mmHg)', font: { family: FONT, size: 11, color: '#333333' }, standoff: 6 };
    layout[yName] = ya;

    const cs = cases[c];
    const xMid = px((colPx[c][0] + colPx[c][1]) / 2);
    const frameRight = colPx[c][1];

    if (r === 0) {
      traces.push({
        type: 'scatter', mode: 'lines', x: X(cs.t), y: Y(cs.t), xaxis: xRef, yaxis: yRef,
        name: fullLegendLabels[0],
        line: { color: blueThin, width: 1.6, shape: 'spline', smoothing: 0.5 }
      });
      traces.push({
        type: 'scatter', mode: 'lines', x: X(cs.p), y: Y(cs.p), xaxis: xRef, yaxis: yRef,
        name: fullLegendLabels[1],
        line: { color: redThin, width: 1.6, dash: thinDash, shape: 'spline', smoothing: 0.5 }
      });
      layout.annotations.push({
        xref: 'paper', yref: 'paper', x: xMid, y: py(12.3), xanchor: 'center', yanchor: 'middle',
        text: '<b>' + caseTitles[c] + '</b>', showarrow: false,
        font: { family: FONT, size: 12, color: '#222222' }
      });
      layout.annotations.push({
        xref: 'paper', yref: 'paper', x: xMid, y: py(25.7), xanchor: 'center', yanchor: 'middle',
        text: '<b>(MAE: ' + caseMAE[c].toFixed(2) + ' mmHg)</b>', showarrow: false,
        font: { family: FONT, size: 12, color: '#222222' }
      });
      const bw = 98;
      addLegend(
        { left: frameRight - 5 - bw, top: 41.5, width: bw, height: 29.5, lineStart: 3, lineEnd: 24.5, textStart: 30 },
        [
          { y: 49.3, color: blueThin, width: 1.8, label: fullLegendLabels[0] },
          { y: 62.7, color: redThin, width: 1.8, dash: thinDash, label: fullLegendLabels[1] }
        ], 9.6);
    } else if (r === 1) {
      const tz = upTo(cs.t, zoomEnd), pz = upTo(cs.p, zoomEnd);
      traces.push({
        type: 'scatter', mode: 'lines', x: X(tz), y: Y(tz), xaxis: xRef, yaxis: yRef,
        name: zoomLegendLabels[0],
        line: { color: blueThick, width: 2.6, shape: 'spline', smoothing: 0.7 }
      });
      traces.push({
        type: 'scatter', mode: 'lines', x: X(pz), y: Y(pz), xaxis: xRef, yaxis: yRef,
        name: zoomLegendLabels[1],
        line: { color: redThick, width: 2.6, dash: thickDash, shape: 'spline', smoothing: 0.7 }
      });
      layout.annotations.push({
        xref: 'paper', yref: 'paper', x: xMid, y: py(331), xanchor: 'center', yanchor: 'middle',
        text: '<b>' + zoomTitle + '</b>', showarrow: false,
        font: { family: FONT, size: 11, color: '#222222' }
      });
      const bw = 68.5;
      addLegend(
        { left: frameRight - 4.5 - bw, top: 345, width: bw, height: 27, lineStart: 2.5, lineEnd: 22.5, textStart: 27.5 },
        [
          { y: 351.8, color: blueThick, width: 2.6, label: zoomLegendLabels[0] },
          { y: 364.2, color: redThick, width: 2.6, dash: thickDash, label: zoomLegendLabels[1] }
        ], 8.6);
    } else {
      traces.push({
        type: 'scatter', mode: 'lines', x: X(cs.e), y: Y(cs.e), xaxis: xRef, yaxis: yRef,
        showlegend: false, fill: 'tozeroy', fillcolor: 'rgba(0,128,0,0.3)',
        line: { color: 'rgba(0,128,0,0.8)', width: 1.5 }
      });
      layout.shapes.push({
        type: 'line', xref: xRef + ' domain', yref: yRef, x0: 0, x1: 1, y0: 0, y1: 0,
        line: { color: 'rgba(0,0,0,0.85)', width: 1.1, dash: '4px,2px' }, layer: 'above'
      });
      layout.annotations.push({
        xref: 'paper', yref: 'paper', x: xMid, y: py(636), xanchor: 'center', yanchor: 'middle',
        text: '<b>Error (Mean: ' + errMean[c].toFixed(2) + ', STD: ' + errStd[c].toFixed(2) + ')</b>',
        showarrow: false, font: { family: FONT, size: 11, color: '#222222' }
      });
    }
  }
}

Plotly.newPlot('chart', traces, layout, { displayModeBar: false, staticPlot: true });
</script>
</body>
</html>
